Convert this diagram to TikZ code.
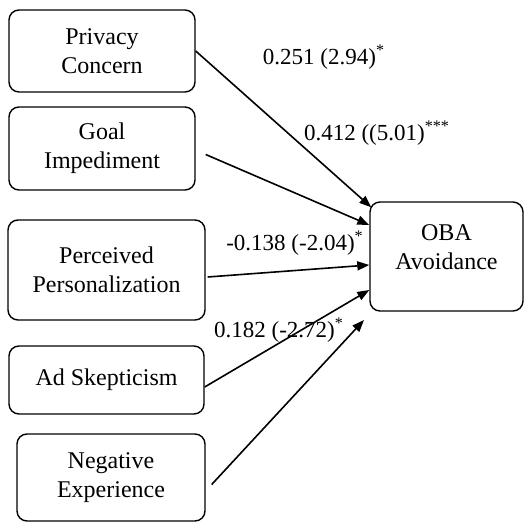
\documentclass[tikz,border=0pt]{standalone}
\usepackage{fontspec}
\setmainfont{Liberation Serif}
\usepackage{tikz}
\usetikzlibrary{positioning,calc,arrows.meta}

\begin{document}
\begin{tikzpicture}[x=0.5pt,y=-0.5pt,
    block/.style={rectangle, draw, rounded corners=5pt, align=center, line width=0.7pt, font=\fontsize{12}{14.5}\selectfont},
    link/.style={draw, line width=0.8pt, -{Triangle[length=6pt,width=4.5pt]}},
    coef/.style={font=\fontsize{11.5}{14}\selectfont, inner sep=0pt}]
    \useasboundingbox (0,0) rectangle (531,523);
    % constructs
    \node[block, minimum width=93pt, minimum height=41pt] (privacy) at (102,51) {Privacy\\Concern};
    \node[block, minimum width=93pt, minimum height=41.5pt] (goal) at (102,148.5) {Goal\\Impediment};
    \node[block, minimum width=98.5pt, minimum height=50pt] (perceived) at (106.5,270) {Perceived\\Personalization};
    \node[block, minimum width=97.5pt, minimum height=34pt] (skept) at (106.5,380) {Ad Skepticism};
    \node[block, minimum width=94pt, minimum height=43.5pt] (negexp) at (111,477.5) {Negative\\Experience};
    \node[block, minimum width=76.5pt, minimum height=54.5pt, text depth=9pt] (oba) at (446.5,256.5) {OBA\\Avoidance};
    \coordinate (negend) at (364,320);
    % paths
    \draw[link] (privacy.east) -- ($(oba.north west)+(2,6)$);
    \draw[link] ($(goal.east)+(10,6)$) -- ($(oba.west)+(0,-31.5)$);
    \draw[link] ($(perceived.east)+(2,7)$) -- ($(oba.west)+(0,8.5)$);
    \draw[link] ($(skept.east)+(0,7)$) -- ($(oba.west)+(0,33.5)$);
    \draw[link] ($(negexp.east)+(6,7)$) -- (negend);
    % coefficients
    \node[coef] (c1) at (324,57) {0.251 (2.94)\textsuperscript{*}};
    \node[coef] (c2) at (377,133) {0.412 ((5.01)\textsuperscript{***}};
    \node[coef] (c3) at (295,243) {-0.138 (-2.04)\textsuperscript{*}};
    \node[coef] (c4) at (279,330) {0.182 (-2.72)\textsuperscript{*}};
\end{tikzpicture}
\end{document}
